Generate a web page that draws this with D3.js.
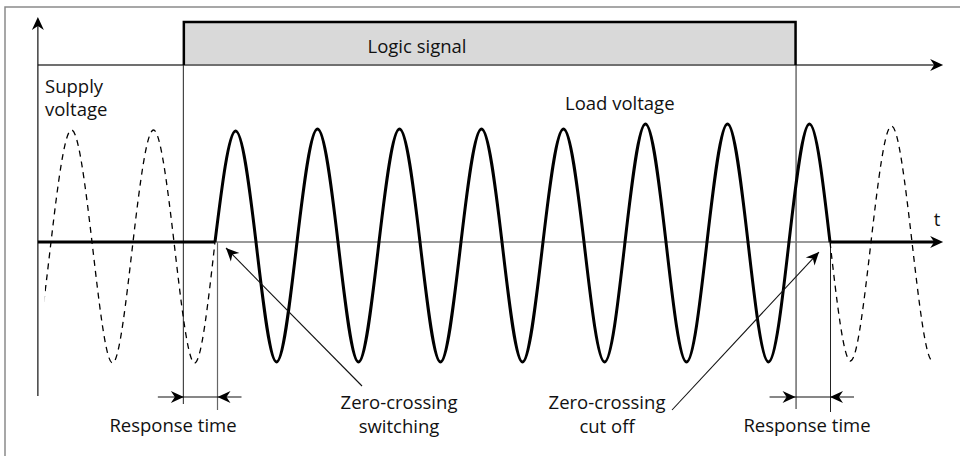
<!DOCTYPE html>
<html>
<head>
<meta charset="utf-8">
<script src="https://cdn.jsdelivr.net/npm/d3@7"></script>
<style>
  body { margin: 0; background: #fff; }
  text { font-family: "Open Sans", "Noto Sans", sans-serif; font-size: 18.5px; fill: #111; }
</style>
</head>
<body>
<svg id="chart" width="960" height="456"></svg>
<script>
// time is counted in half periods of the mains, 0 = first zero crossing after logic on
var halfCycleStarts = [-5, -4, -3, -2, -1, 0, 1, 2, 3, 4, 5, 6, 7, 8, 9, 10, 11, 12, 13, 14, 15, 16, 17];
// peak of every half cycle
var halfCyclePeaks = [-121, 112, -121, 112, -121, 111, -120, 113, -120, 113, -120, 113, -120, 113, -120, 118, -120, 118, -120, 118, -119, 116, -119];

var timeAxis = [-4.32, 17.76];     // start / end of both time axes
var supplyShown = [-4.15, 17.5];   // visible part of the dashed supply voltage
var loadOn = [0, 15];              // switched zero crossings
var logicEdges = [-0.76, 14.16];   // logic signal rises / falls

var labels = {
    logic: "Logic signal",
    supply: ["Supply", "voltage"],
    load: "Load voltage",
    t: "t",
    switching: ["Zero-crossing", "switching"],
    cutoff: ["Zero-crossing", "cut off"],
    response: "Response time"
};

var svg = d3.select("#chart");

var x = d3.scaleLinear().domain(loadOn).range([215, 830]);
var y = d3.scaleLinear().domain([-120, 120]).range([362, 122]);
var yLogic = d3.scaleLinear().domain([0, 1]).range([65, 22]);

// zero crossings + peaks of the mains
var points = [];
halfCycleStarts.forEach(function(k, i) {
    points.push({t: k, v: 0});
    points.push({t: k + 0.5, v: halfCyclePeaks[i]});
});
points.push({t: halfCycleStarts[halfCycleStarts.length - 1] + 1, v: 0});

var wave = d3.line()
    .x(function(d) { return x(d.t); })
    .y(function(d) { return y(d.v); })
    .curve(d3.curveNatural);

// arrow head, tip at 0,0 pointing +x
var headPath = "M0,0 L-13,-6 L-9,0 L-13,6 Z";
function head(px, py, angle) {
    svg.append("path")
        .attr("d", headPath)
        .attr("transform", "translate(" + px + "," + py + ") rotate(" + angle + ")")
        .attr("fill", "#000");
}

// frame
svg.append("path")
    .attr("d", "M5,456 V7 H960")
    .attr("fill", "none")
    .attr("stroke", "#8a8a8a")
    .attr("stroke-width", 1.5);

// clip for dashed supply
svg.append("clipPath").attr("id", "supplyClip")
    .append("rect")
    .attr("x", x(supplyShown[0])).attr("y", 0)
    .attr("width", x(supplyShown[1]) - x(supplyShown[0])).attr("height", 456);

// logic signal box
svg.append("rect")
    .attr("x", x(logicEdges[0]))
    .attr("y", yLogic(1))
    .attr("width", x(logicEdges[1]) - x(logicEdges[0]))
    .attr("height", yLogic(0) - yLogic(1))
    .attr("fill", "#d9d9d9");

// logic time axis
svg.append("line")
    .attr("x1", x(timeAxis[0])).attr("x2", x(timeAxis[1]) - 6)
    .attr("y1", yLogic(0)).attr("y2", yLogic(0))
    .attr("stroke", "#707070").attr("stroke-width", 2);
head(x(timeAxis[1]), yLogic(0), 0);

svg.append("path")
    .attr("d", "M" + x(logicEdges[0]) + "," + yLogic(0) + " V" + yLogic(1) +
               " H" + x(logicEdges[1]) + " V" + yLogic(0))
    .attr("fill", "none")
    .attr("stroke", "#000")
    .attr("stroke-width", 2.5);

svg.append("text")
    .attr("x", 417).attr("y", 53)
    .attr("text-anchor", "middle")
    .text(labels.logic);

// vertical y axis
svg.append("line")
    .attr("x1", x(timeAxis[0])).attr("x2", x(timeAxis[0]))
    .attr("y1", 396).attr("y2", 24)
    .attr("stroke", "#111").attr("stroke-width", 1.2);
head(x(timeAxis[0]), 17, -90);

// helper verticals
svg.append("line")
    .attr("x1", x(logicEdges[0]) - 0.5).attr("x2", x(logicEdges[0]) - 0.5)
    .attr("y1", yLogic(0)).attr("y2", 404)
    .attr("stroke", "#222").attr("stroke-width", 1);
svg.append("line")
    .attr("x1", x(logicEdges[1]) + 0.5).attr("x2", x(logicEdges[1]) + 0.5)
    .attr("y1", yLogic(0)).attr("y2", 409)
    .attr("stroke", "#222").attr("stroke-width", 1);
svg.append("line")
    .attr("x1", x(loadOn[0]) + 2.5).attr("x2", x(loadOn[0]) + 2.5)
    .attr("y1", y(0)).attr("y2", 410)
    .attr("stroke", "#666").attr("stroke-width", 1.2);
svg.append("line")
    .attr("x1", x(loadOn[1]) + 0.5).attr("x2", x(loadOn[1]) + 0.5)
    .attr("y1", y(0)).attr("y2", 412)
    .attr("stroke", "#222").attr("stroke-width", 1);

// zero line
svg.append("line")
    .attr("x1", x(timeAxis[0])).attr("x2", x(timeAxis[1]) - 6)
    .attr("y1", y(0)).attr("y2", y(0))
    .attr("stroke", "#777").attr("stroke-width", 1.5);
svg.append("line")
    .attr("x1", x(timeAxis[0])).attr("x2", x(loadOn[0]))
    .attr("y1", y(0)).attr("y2", y(0))
    .attr("stroke", "#000").attr("stroke-width", 3);
svg.append("line")
    .attr("x1", x(loadOn[1])).attr("x2", x(timeAxis[1]) - 6)
    .attr("y1", y(0)).attr("y2", y(0))
    .attr("stroke", "#000").attr("stroke-width", 3);
head(x(timeAxis[1]), y(0), 0);

// supply voltage, dashed, only where not switched
var supplyG = svg.append("g").attr("clip-path", "url(#supplyClip)");
[points.filter(function(d) { return d.t <= loadOn[0]; }),
 points.filter(function(d) { return d.t >= loadOn[1]; })].forEach(function(seg) {
    supplyG.append("path")
        .attr("d", wave(seg))
        .attr("fill", "none")
        .attr("stroke", "#000")
        .attr("stroke-width", 1.3)
        .attr("stroke-dasharray", "6,5");
});

// load voltage
svg.append("path")
    .attr("d", wave(points.filter(function(d) { return d.t >= loadOn[0] && d.t <= loadOn[1]; })))
    .attr("fill", "none")
    .attr("stroke", "#000")
    .attr("stroke-width", 3)
    .attr("stroke-linejoin", "round");

// response time arrows
function responseArrow(a, b, cx) {
    svg.append("line")
        .attr("x1", a - 26).attr("x2", b + 24)
        .attr("y1", 397).attr("y2", 397)
        .attr("stroke", "#111").attr("stroke-width", 1.2);
    head(a, 397, 0);
    head(b, 397, 180);
    svg.append("text")
        .attr("x", cx).attr("y", 432)
        .attr("text-anchor", "middle")
        .text(labels.response);
}
responseArrow(x(logicEdges[0]), x(loadOn[0]) + 2.5, 173);
responseArrow(x(logicEdges[1]), x(loadOn[1]), 807);

// leader arrows
function leader(x1, y1, x2, y2) {
    svg.append("line")
        .attr("x1", x1).attr("y1", y1)
        .attr("x2", x2).attr("y2", y2)
        .attr("stroke", "#111").attr("stroke-width", 1.1);
    head(x2, y2, Math.atan2(y2 - y1, x2 - x1) * 180 / Math.PI);
}
leader(362, 386, x(loadOn[0]) + 11, y(0) + 6);
leader(672, 410, x(loadOn[1]) - 11, y(0) + 10);

// texts
svg.append("text").attr("x", 45).attr("y", 93).text(labels.supply[0]);
svg.append("text").attr("x", 45).attr("y", 116).text(labels.supply[1]);
svg.append("text").attr("x", 565).attr("y", 110).text(labels.load);
svg.append("text").attr("x", 937).attr("y", 226).attr("text-anchor", "middle").text(labels.t);
svg.append("text").attr("x", 399).attr("y", 409).attr("text-anchor", "middle").text(labels.switching[0]);
svg.append("text").attr("x", 399).attr("y", 433).attr("text-anchor", "middle").text(labels.switching[1]);
svg.append("text").attr("x", 607).attr("y", 409).attr("text-anchor", "middle").text(labels.cutoff[0]);
svg.append("text").attr("x", 607).attr("y", 433).attr("text-anchor", "middle").text(labels.cutoff[1]);
</script>
</body>
</html>
